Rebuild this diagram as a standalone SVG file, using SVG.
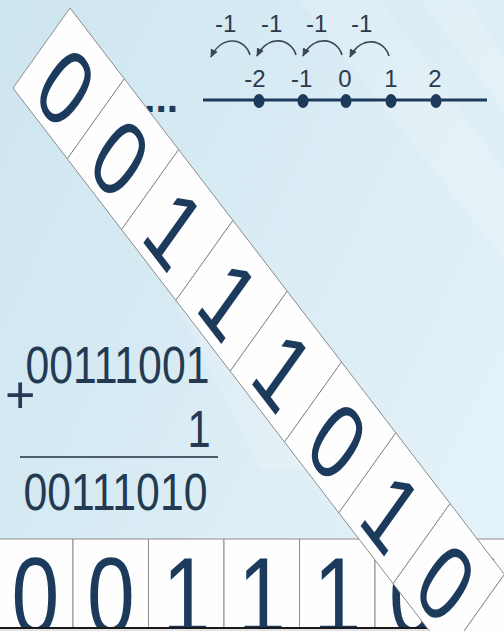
<svg xmlns="http://www.w3.org/2000/svg" width="504" height="631" viewBox="0 0 504 631">
<defs>
<linearGradient id="bg" x1="0" y1="0" x2="1" y2="0.6">
<stop offset="0" stop-color="#cde5f0"/>
<stop offset="0.5" stop-color="#d8ebf4"/>
<stop offset="1" stop-color="#e3f1f8"/>
</linearGradient>
<marker id="ah" viewBox="0 0 10 10" refX="8" refY="5" markerWidth="6" markerHeight="6" orient="auto">
<path d="M0,1 L9,5 L0,9 Z" fill="#3a4858"/>
</marker>
<clipPath id="rowclip"><rect x="-10" y="539" width="530" height="88"/></clipPath>
</defs>
<style>
.lbl{font-family:"Liberation Sans",Arial,sans-serif;font-size:24px;fill:#2b3b4c;text-anchor:middle}
.arc{fill:none;stroke:#3a4858;stroke-width:1.6;marker-end:url(#ah)}
.cell{fill:#fefefe;stroke:#8c8c8c;stroke-width:1;vector-effect:non-scaling-stroke}
.tdig{font-family:"Liberation Sans",Arial,sans-serif;font-size:100px;fill:#1b3a5c;text-anchor:middle}
.bdig{font-family:"Liberation Sans",Arial,sans-serif;font-size:110px;fill:#1b3a5c;text-anchor:middle}
.sum{font-family:"Liberation Sans",Arial,sans-serif;font-size:52px;fill:#243a52}
</style>
<rect x="0" y="0" width="504" height="631" fill="url(#bg)"/>
<g fill="#ffffff" opacity="0.18">
<polygon points="300,0 380,0 504,170 504,260"/>
<polygon points="420,0 470,0 504,60 504,110"/>
<polygon points="150,250 230,250 330,470 260,470"/>
</g>

<g id="number-line">
<line x1="203" y1="100" x2="487" y2="100" stroke="#1d3a5a" stroke-width="3"/>
<g fill="#1d3a5a">
<ellipse cx="259" cy="101" rx="5.5" ry="7"/>
<ellipse cx="303" cy="101" rx="5.5" ry="7"/>
<ellipse cx="346" cy="101" rx="5.5" ry="7"/>
<ellipse cx="391" cy="101" rx="5.5" ry="7"/>
<ellipse cx="436" cy="101" rx="5.5" ry="7"/>
</g>
<text class="lbl" x="255" y="87">-2</text>
<text class="lbl" x="301.7" y="87">-1</text>
<text class="lbl" x="345" y="87">0</text>
<text class="lbl" x="391" y="87">1</text>
<text class="lbl" x="435" y="87">2</text>
<text class="lbl" x="225.7" y="32">-1</text>
<text class="lbl" x="271.7" y="32">-1</text>
<text class="lbl" x="316.7" y="32">-1</text>
<text class="lbl" x="361.7" y="32">-1</text>
<text x="144" y="112" font-family="Liberation Sans,Arial,sans-serif" font-size="41" font-weight="bold" fill="#1d3a5a">...</text>
</g>

<g id="connectors">
<path class="arc" d="M250,55 C245,38 222,34 211,57"/>
<path class="arc" d="M296,55 C291,38 268,34 257,56"/>
<path class="arc" d="M342,55 C337,38 314,34 303,56"/>
<path class="arc" d="M389,56 C384,39 361,35 350,57"/>
</g>

<g id="addition">
<text class="sum" x="5" y="413" font-size="40">+</text>
<text class="sum" x="25.5" y="383" textLength="184" lengthAdjust="spacingAndGlyphs">00111001</text>
<text class="sum" x="210.6" y="447" text-anchor="end" transform="translate(210.6 0) scale(0.8 1) translate(-210.6 0)">1</text>
<line x1="20" y1="457" x2="218" y2="457" stroke="#4d5d6d" stroke-width="2"/>
<text class="sum" x="23.5" y="510" textLength="184" lengthAdjust="spacingAndGlyphs">00111010</text>
</g>

<g id="bottom-row">
<rect class="cell" x="-2.5" y="539" width="75.5" height="89"/>
<rect class="cell" x="73" y="539" width="75.5" height="89"/>
<rect class="cell" x="148.5" y="539" width="75.5" height="89"/>
<rect class="cell" x="224" y="539" width="75.5" height="89"/>
<rect class="cell" x="299.5" y="539" width="75.5" height="89"/>
<rect class="cell" x="375" y="539" width="75.5" height="89"/>
<rect class="cell" x="450.5" y="539" width="75.5" height="89"/>
<g clip-path="url(#rowclip)">
<text class="bdig" transform="translate(35.25 634) scale(0.78 1)">0</text>
<text class="bdig" transform="translate(110.75 634) scale(0.78 1)">0</text>
<text class="bdig" transform="translate(186.25 634) scale(0.78 1)">1</text>
<text class="bdig" transform="translate(261.75 634) scale(0.78 1)">1</text>
<text class="bdig" transform="translate(337.25 634) scale(0.78 1)">1</text>
<text class="bdig" transform="translate(412.75 634) scale(0.78 1)">0</text>
<text class="bdig" transform="translate(488.25 634) scale(0.78 1)">1</text>
</g>
<rect x="0" y="629" width="504" height="2" fill="#e4e4e4"/>
<line x1="0" y1="628" x2="504" y2="628" stroke="#1a1a1a" stroke-width="2"/>
</g>

<g id="tape" transform="matrix(0.543 0.708 -0.57 0.8 70 8)">
<rect class="cell" x="0" y="0" width="100" height="100"/>
<rect class="cell" x="100" y="0" width="100" height="100"/>
<rect class="cell" x="200" y="0" width="100" height="100"/>
<rect class="cell" x="300" y="0" width="100" height="100"/>
<rect class="cell" x="400" y="0" width="100" height="100"/>
<rect class="cell" x="500" y="0" width="100" height="100"/>
<rect class="cell" x="600" y="0" width="100" height="100"/>
<rect class="cell" x="700" y="0" width="100" height="100"/>
<rect class="cell" x="800" y="0" width="100" height="100"/>
<text class="tdig" x="50" y="90">0</text>
<text class="tdig" x="150" y="90">0</text>
<text class="tdig" x="250" y="90">1</text>
<text class="tdig" x="350" y="90">1</text>
<text class="tdig" x="450" y="90">1</text>
<text class="tdig" x="550" y="90">0</text>
<text class="tdig" x="650" y="90">1</text>
<text class="tdig" x="750" y="90">0</text>
</g>
</svg>
